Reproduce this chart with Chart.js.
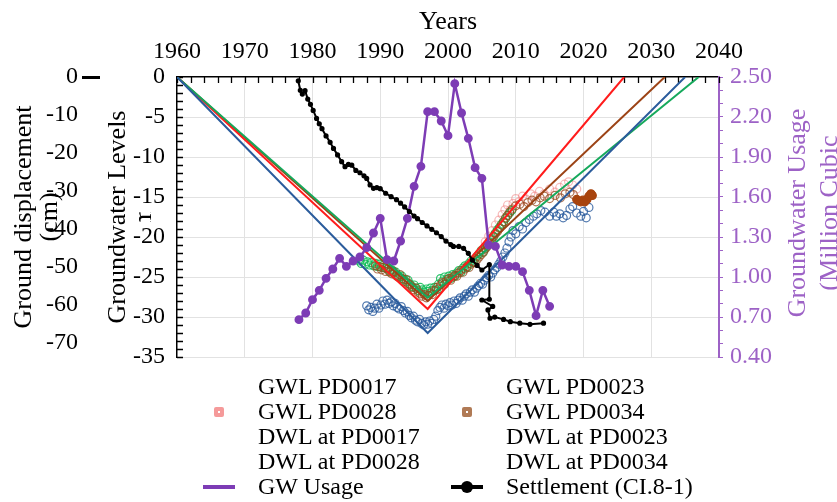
<!DOCTYPE html>
<html>
<head>
<meta charset="utf-8">
<script src="https://cdn.jsdelivr.net/npm/chart.js@4.4.1/dist/chart.umd.min.js"></script>
<style>
  html, body { margin: 0; padding: 0; background: #fff; }
  #wrap { position: relative; width: 837px; height: 502px; overflow: hidden; }
  #legend {
    position: absolute; left: 199px; top: 374px;
    display: grid; grid-template-columns: 40px 208px 40px auto;
    grid-auto-rows: 25px; align-items: center;
    font-family: "Liberation Serif", "Times New Roman", serif; font-size: 24px; color: #000;
  }
  #legend .mk { display: flex; justify-content: center; align-items: center; height: 25px; }
  #legend .tx { padding-left: 19px; white-space: nowrap; line-height: 25px; }
  .sq { width: 2px; height: 2px; border: 4px solid; background: #fff; border-radius: 2px; }
  .ln { width: 32px; height: 4px; }
  .lnDot { position: relative; width: 32px; height: 4px; background: #000; }
  .lnDot::after { content: ''; position: absolute; left: 10px; top: -4px; width: 12px; height: 12px; border-radius: 50%; background: #000; }
</style>
</head>
<body>
<div id="wrap">
  <canvas id="chart" width="837" height="502"></canvas>
  <div id="legend"></div>
</div>
<script>
// 坐标轴刻度
const dispTicks = [0, -10, -20, -30, -40, -50, -60, -70];
const rightTitleLines = ['Groundwater Usage', '(Million Cubic'];

// 观测地下水位 (年, m)
const gwlPD0017 = [
  [1988.0,-28.6],[1988.3,-29.1],[1988.6,-28.8],[1988.9,-29.3],[1989.2,-28.9],[1989.5,-28.4],[1989.8,-28.9],
  [1990.1,-28.5],[1990.4,-28.0],[1990.7,-28.4],[1991.0,-27.9],[1991.3,-28.3],[1991.6,-28.1],[1991.9,-28.6],
  [1992.2,-28.3],[1992.5,-28.8],[1992.8,-29.0],[1993.1,-28.7],[1993.4,-29.2],[1993.7,-29.5],[1994.0,-29.3],
  [1994.3,-29.8],[1994.6,-30.1],[1994.9,-29.9],[1995.2,-30.4],[1995.5,-30.6],[1995.8,-30.3],[1996.1,-30.8],
  [1996.4,-31.0],[1996.7,-30.6],[1997.0,-30.9],[1997.3,-30.5],[1997.6,-30.8],[1997.9,-30.3],[1998.2,-29.9],
  [1998.5,-29.2],[1998.8,-28.8],[1999.1,-28.5],[1999.4,-28.9],[1999.7,-28.4],[2000.0,-28.6],[2000.3,-28.2],
  [2000.6,-28.5],[2000.9,-28.0],[2001.2,-28.3],[2001.5,-27.9],[2001.8,-27.6],[2002.1,-27.9],[2002.4,-27.4],
  [2002.7,-27.1],[2003.0,-27.4],[2003.3,-26.9],[2003.6,-26.6],[2003.9,-26.9],[2004.2,-26.4],[2004.5,-26.1],
  [2004.8,-25.8],[2005.1,-25.9],[2005.4,-25.4],[2005.7,-25.1],[2006.0,-24.8],[2006.3,-25.0],[2006.6,-24.5],
  [2006.9,-24.1],[2007.2,-23.8],[2007.5,-23.4],[2007.8,-23.0],[2008.1,-22.5],[2008.4,-22.0],[2008.7,-21.4],
  [2009.0,-20.6],[2009.3,-20.0],[2009.6,-19.2],[2010.0,-19.6],[2010.5,-18.7],[2011.0,-19.0],[2011.5,-18.2],
  [2012.0,-17.8],[2012.6,-17.4],[2013.1,-17.1],[2013.7,-16.7],[2014.3,-16.9],[2015.0,-17.4],[2015.6,-16.9],
  [2016.0,-17.4],[2016.5,-17.1],[2017.0,-17.6],[2017.5,-17.3],[2018.0,-16.5],[2018.4,-16.2],[2019.0,-17.0],
  [2019.6,-17.4],[2020.0,-16.8],[2020.4,-17.6],[2020.8,-16.3]
];
const gwlPD0023 = [
  [1986.9,-23.0],[1987.2,-23.3],[1987.5,-22.9],[1987.8,-23.4],[1988.1,-23.1],[1988.4,-23.5],[1988.7,-23.2],
  [1989.0,-23.6],[1989.3,-23.3],[1989.6,-23.7],[1989.9,-23.4],[1990.2,-23.8],[1990.5,-23.5],[1990.8,-23.9],
  [1991.1,-24.0],[1991.4,-24.3],[1991.7,-24.1],[1992.0,-24.5],[1992.3,-24.4],[1992.6,-24.8],[1992.9,-25.0],
  [1993.2,-24.9],[1993.5,-25.3],[1993.8,-25.6],[1994.1,-25.4],[1994.4,-25.9],[1994.7,-26.2],[1995.0,-26.0],
  [1995.3,-26.4],[1995.6,-26.7],[1995.9,-26.3],[1996.2,-26.6],[1996.5,-26.9],[1996.8,-26.5],[1997.1,-26.8],
  [1997.4,-26.4],[1997.7,-26.7],[1998.0,-26.3],[1998.3,-26.6],[1998.6,-25.9],[1998.9,-25.2],[1999.2,-25.5],
  [1999.5,-25.0],[1999.8,-25.3],[2000.1,-24.9],[2000.4,-25.2],[2000.7,-24.7],[2001.0,-24.9],[2001.3,-24.5],
  [2001.6,-24.2],[2001.9,-24.4],[2002.2,-23.9],[2002.5,-23.6],[2002.8,-23.8],[2003.1,-23.3],[2003.4,-23.0],
  [2003.7,-23.2],[2004.0,-22.7],[2004.3,-22.4],[2004.6,-22.1],[2004.9,-21.7],[2005.2,-21.9],[2005.5,-21.4],
  [2005.8,-21.0],[2006.1,-20.6],[2006.4,-20.2],[2006.7,-19.9],[2007.0,-19.5],[2007.3,-19.1],[2007.6,-18.8],
  [2007.9,-18.4],[2008.2,-18.1],[2008.5,-17.7],[2008.8,-17.3],[2009.1,-17.0],[2009.4,-16.7]
];
const gwlPD0028 = [
  [2005.5,-20.6],[2006.0,-19.9],[2006.5,-19.2],[2007.0,-18.5],[2007.5,-17.9],[2008.0,-17.2],[2008.4,-16.6],
  [2008.8,-16.0],[2009.2,-16.6],[2009.6,-15.8],[2010.0,-15.2],[2010.5,-15.6],[2011.0,-14.9],[2011.6,-15.3],
  [2012.2,-14.6],[2012.8,-14.9],[2013.5,-14.3],[2014.2,-14.6],[2015.0,-14.0],[2015.8,-14.4],[2016.5,-13.8],
  [2017.2,-13.4],[2017.8,-13.1],[2018.4,-13.5],[2019.0,-14.0]
];
const gwlPD0034 = [
  [1989.3,-23.6],[1989.6,-24.0],[1989.9,-23.7],[1990.2,-24.1],[1990.5,-23.8],[1990.8,-24.3],[1991.1,-24.0],
  [1991.4,-24.4],[1991.7,-24.6],[1992.0,-24.3],[1992.3,-24.8],[1992.6,-25.0],[1992.9,-24.7],[1993.2,-25.2],
  [1993.5,-25.5],[1993.8,-25.3],[1994.1,-25.8],[1994.4,-26.0],[1994.7,-26.3],[1995.0,-26.6],[1995.3,-26.4],
  [1995.6,-26.9],[1995.9,-27.1],[1996.2,-27.4],[1996.5,-27.2],[1996.8,-27.6],[1997.1,-27.3],[1997.4,-27.0],
  [1997.7,-27.2],[1998.0,-26.7],[1998.3,-26.3],[1998.6,-26.5],[1998.9,-26.0],[1999.2,-25.7],[1999.5,-25.9],
  [1999.8,-25.5],[2000.1,-25.2],[2000.4,-25.4],[2000.7,-25.0],[2001.0,-24.8],[2001.3,-24.9],[2001.6,-24.5],
  [2001.9,-24.2],[2002.2,-24.4],[2002.5,-24.0],[2002.8,-23.7],[2003.1,-23.8],[2003.4,-23.4],[2003.7,-23.1],
  [2004.0,-23.2],[2004.3,-22.8],[2004.6,-22.5],[2004.9,-22.2],[2005.2,-21.9],[2005.5,-21.5],[2005.8,-21.2],
  [2006.1,-20.8],[2006.4,-20.4],[2006.7,-20.0],[2007.0,-19.6],[2007.3,-19.3],[2007.6,-18.9],[2007.9,-18.5],
  [2008.2,-18.1],[2008.5,-17.6],[2008.8,-17.3],[2009.1,-16.9],[2009.5,-16.5],[2010.0,-16.1],[2010.6,-15.9],
  [2011.2,-16.2],[2011.8,-15.7],[2012.4,-15.4],[2013.0,-15.6],[2013.6,-15.1],[2014.2,-14.9],[2015.0,-15.2],
  [2015.8,-14.8],[2016.6,-15.1],[2017.3,-14.6],[2018.0,-14.4],[2018.5,-14.7],
  [2019.0,-15.3],[2019.3,-15.5],[2019.6,-15.6],[2019.9,-15.4],[2020.2,-15.6],[2020.5,-15.3],[2020.8,-14.9],
  [2021.1,-14.6],[2021.3,-14.8]
];

// 设计水位线 (年, m)
const dwlPD0017 = [[1960, 0], [1997, -32.0], [2035, 0]];
const dwlPD0023 = [[1960, 0], [1997, -27.6], [2037, 0]];
const dwlPD0028 = [[1960, 0], [1997, -29.0], [2026, 0]];
const dwlPD0034 = [[1960, 0], [1997, -28.0], [2032, 0]];

// 地下水用量 (百万立方米)
const usageYears = [1978, 1979, 1980, 1981, 1982, 1983, 1984, 1985, 1986, 1987, 1988, 1989, 1990, 1991, 1992, 1993,
  1994, 1995, 1996, 1997, 1998, 1999, 2000, 2001, 2002, 2003, 2004, 2005, 2006, 2007, 2008, 2009, 2010, 2011,
  2012, 2013, 2014, 2015];
const usageValues = [0.68, 0.73, 0.83, 0.90, 0.99, 1.06, 1.14, 1.08, 1.12, 1.15, 1.22, 1.33, 1.44, 1.13, 1.12, 1.27,
  1.44, 1.68, 1.83, 2.24, 2.24, 2.17, 2.06, 2.45, 2.23, 2.04, 1.82, 1.74, 1.24, 1.23, 1.09, 1.08, 1.08, 1.04,
  0.90, 0.71, 0.90, 0.78];

// 地面沉降 CI.8-1 (年, cm)
const settlement = [
  [1977.9,-1.0],[1978.2,-3.5],[1978.5,-4.5],[1978.9,-3.6],[1979.3,-5.8],[1979.7,-7.2],[1980.1,-8.8],
  [1980.6,-10.9],[1981.0,-12.3],[1981.4,-13.6],[1982.0,-15.5],[1982.6,-17.2],[1983.1,-18.8],[1983.7,-20.5],
  [1984.3,-22.3],[1984.8,-23.6],[1985.3,-23.0],[1985.8,-23.2],[1986.4,-24.6],[1987.0,-25.2],[1987.6,-26.0],
  [1988.0,-26.7],[1988.5,-28.4],[1989.0,-29.3],[1989.5,-29.1],[1990.0,-29.4],[1990.8,-30.6],[1991.6,-31.5],
  [1992.4,-32.3],[1993.0,-33.2],[1993.6,-34.2],[1994.3,-35.4],[1995.0,-36.6],[1995.5,-37.3],[1996.2,-38.3],
  [1996.9,-39.2],[1997.6,-40.1],[1998.3,-41.0],[1999.0,-42.0],[1999.7,-43.2],[2000.4,-44.1],[2000.8,-44.6],
  [2001.6,-44.6],[2002.3,-45.1],[2003.0,-46.4],[2003.6,-48.2],[2004.3,-49.6],[2005.0,-50.8],[2006.1,-49.4],
  [2006.1,-58.5],[2005.0,-58.7],[2006.6,-60.4],[2005.9,-61.3],[2006.2,-63.5],[2006.9,-63.2],[2008.2,-63.8],
  [2009.2,-64.4],[2010.6,-64.8],[2012.1,-65.1],[2014.1,-64.8]
];

const serif = '"Liberation Serif", "Times New Roman", serif';
const purple = '#7d3cb5';
const purpleAxis = '#9d62c6';
const pts = arr => arr.map(([x, y]) => ({ x, y }));

Chart.defaults.font.family = serif;

// 散点数据集
function gwlSet(label, data, color, order, legendMark) {
    return {
        label: label,
        data: pts(data),
        yAxisID: 'y',
        showLine: false,
        pointRadius: 4,
        pointBorderWidth: 1.2,
        pointBorderColor: color,
        pointBackgroundColor: 'transparent',
        order: order,
        legendMark: legendMark
    };
}

// 折线数据集
function dwlSet(label, data, color) {
    return {
        label: label,
        data: pts(data),
        yAxisID: 'y',
        showLine: true,
        borderColor: color,
        borderWidth: 2,
        pointRadius: 0,
        order: 3
    };
}

const brownCircle = 'rgba(150,72,28,0.75)';
const brownSet = gwlSet('GWL PD0034', gwlPD0034, brownCircle, 4, { type: 'sq', color: '#b07a55' });
brownSet.pointBackgroundColor = ctx => (ctx.raw && ctx.raw.x >= 2019 ? '#a8440e' : 'transparent');
brownSet.pointBorderColor = ctx => (ctx.raw && ctx.raw.x >= 2019 ? '#a8440e' : brownCircle);

const datasets = [
    gwlSet('GWL PD0017', gwlPD0017, 'rgba(38,88,155,0.8)', 6, null),
    gwlSet('GWL PD0023', gwlPD0023, 'rgba(20,190,90,0.9)', 5, null),
    gwlSet('GWL PD0028', gwlPD0028, 'rgba(240,130,130,0.55)', 7, { type: 'sq', color: '#f59a9a' }),
    brownSet,
    dwlSet('DWL at PD0017', dwlPD0017, '#2b5c9c'),
    dwlSet('DWL at PD0023', dwlPD0023, '#16a95c'),
    dwlSet('DWL at PD0028', dwlPD0028, '#ff1c1c'),
    dwlSet('DWL at PD0034', dwlPD0034, '#9c4316'),
    {
        label: 'GW Usage',
        data: usageYears.map((y, i) => ({ x: y, y: usageValues[i] })),
        yAxisID: 'yUse',
        showLine: true,
        borderColor: purple,
        borderWidth: 2.5,
        pointRadius: 3.2,
        pointBackgroundColor: purple,
        pointBorderColor: purple,
        order: 1,
        legendMark: { type: 'ln', color: purple }
    },
    {
        label: 'Settlement (CI.8-1)',
        data: pts(settlement),
        yAxisID: 'yDisp',
        showLine: true,
        borderColor: '#000',
        borderWidth: 2,
        pointRadius: 1.6,
        pointBackgroundColor: '#000',
        pointBorderColor: '#000',
        order: 0,
        legendMark: { type: 'lnDot', color: '#000' }
    }
];

// 右侧标题 (逆时针旋转)
const rightTitle = {
    id: 'rightTitle',
    afterDraw(chart) {
        const ctx = chart.ctx;
        ctx.save();
        ctx.translate(798, 213);
        ctx.rotate(-Math.PI / 2);
        ctx.fillStyle = purpleAxis;
        ctx.font = '26px ' + serif;
        ctx.textAlign = 'center';
        ctx.textBaseline = 'middle';
        rightTitleLines.forEach((t, i) => ctx.fillText(t, 0, i * 32));
        ctx.restore();
    }
};

// 朝内的小刻度 (上轴和左轴)
const innerTicks = {
    id: 'innerTicks',
    beforeDatasetsDraw(chart) {
        const { ctx, chartArea } = chart;
        const xs = chart.scales.x;
        const ys = chart.scales.y;
        ctx.save();
        ctx.strokeStyle = '#000';
        ctx.lineWidth = 1.3;
        ctx.beginPath();
        xs.ticks.forEach(t => {
            const px = Math.round(xs.getPixelForValue(t.value)) + 0.5;
            ctx.moveTo(px, chartArea.top);
            ctx.lineTo(px, chartArea.top + 6);
        });
        ys.ticks.forEach(t => {
            const py = Math.round(ys.getPixelForValue(t.value)) + 0.5;
            ctx.moveTo(chartArea.left, py);
            ctx.lineTo(chartArea.left + 6, py);
        });
        ctx.stroke();
        ctx.restore();
    }
};

const tickFont = { family: serif, size: 24 };
const titleFont = { family: serif, size: 26, lineHeight: 1 };

const chart = new Chart(document.getElementById('chart'), {
    type: 'scatter',
    data: { datasets: datasets },
    plugins: [rightTitle, innerTicks],
    options: {
        responsive: false,
        animation: false,
        events: [],
        layout: { padding: { left: 0, right: 0, top: 0, bottom: 145 } },
        plugins: { legend: { display: false }, tooltip: { enabled: false } },
        scales: {
            x: {
                type: 'linear',
                position: 'top',
                min: 1960,
                max: 2040,
                title: { display: true, text: 'Years', color: '#000', font: titleFont, padding: { top: 9, bottom: 0 } },
                ticks: {
                    stepSize: 2, maxTicksLimit: 100, autoSkip: false, maxRotation: 0, padding: 11,
                    color: '#000', font: tickFont,
                    callback: v => (v % 10 === 0 ? String(v) : '')
                },
                grid: {
                    color: ctx => (ctx.tick && ctx.tick.value % 10 === 0 && ctx.tick.value > 1960 && ctx.tick.value < 2040 ? '#e2e2e2' : 'transparent'),
                    drawTicks: false
                },
                border: { color: '#000', width: 1.5 },
                afterFit: s => { s.height = 77; }
            },
            yDisp: {
                type: 'linear',
                position: 'left',
                weight: 2,
                min: -73.7,
                max: 0,
                afterBuildTicks: s => { s.ticks = dispTicks.map(v => ({ value: v })); },
                title: { display: true, text: ['Ground displacement', '(cm)'], color: '#000', font: titleFont, padding: { top: 11, bottom: 0 } },
                ticks: { autoSkip: false, padding: 4, color: '#000', font: tickFont, callback: v => String(v) },
                grid: {
                    drawOnChartArea: false,
                    tickLength: 18,
                    tickWidth: 3,
                    tickColor: ctx => (ctx.tick && ctx.tick.value === 0 ? '#000' : 'transparent')
                },
                border: { display: false },
                afterFit: s => { s.width = 100; }
            },
            y: {
                type: 'linear',
                position: 'left',
                weight: 1,
                min: -35,
                max: 0,
                title: { display: true, text: ['Groundwater Levels', '(m)'], color: '#000', font: titleFont, padding: { top: 5, bottom: 0 } },
                ticks: {
                    stepSize: 1, maxTicksLimit: 100, autoSkip: false, padding: 12,
                    color: '#000', font: tickFont,
                    showLabelBackdrop: true, backdropColor: '#fff', backdropPadding: 1,
                    callback: v => (v % 5 === 0 ? String(v) : '')
                },
                grid: {
                    color: ctx => (ctx.tick && ctx.tick.value % 5 === 0 && ctx.tick.value !== 0 ? '#e2e2e2' : 'transparent'),
                    drawTicks: false
                },
                border: { color: '#000', width: 1.5 },
                afterFit: s => { s.width = 77; }
            },
            yUse: {
                type: 'linear',
                position: 'right',
                min: 0.4,
                max: 2.5,
                title: { display: false },
                ticks: {
                    stepSize: 0.1, maxTicksLimit: 100, autoSkip: false, padding: 7,
                    color: purpleAxis, font: tickFont,
                    callback: v => (Math.round(v * 10) % 3 === 1 ? v.toFixed(2) : '')
                },
                grid: { drawOnChartArea: false, tickLength: 4, tickColor: purpleAxis },
                border: { color: purpleAxis, width: 2 },
                afterFit: s => { s.width = 118; }
            }
        }
    }
});

// 图例 (两列)
const legendEl = document.getElementById('legend');
chart.data.datasets.forEach(ds => {
    const mk = document.createElement('div');
    mk.className = 'mk';
    const m = ds.legendMark;
    if (m) {
        const el = document.createElement('div');
        el.className = m.type;
        if (m.type === 'sq') el.style.borderColor = m.color;
        if (m.type === 'ln') el.style.background = m.color;
        mk.appendChild(el);
    }
    const tx = document.createElement('div');
    tx.className = 'tx';
    tx.textContent = ds.label;
    legendEl.appendChild(mk);
    legendEl.appendChild(tx);
});
</script>
</body>
</html>
